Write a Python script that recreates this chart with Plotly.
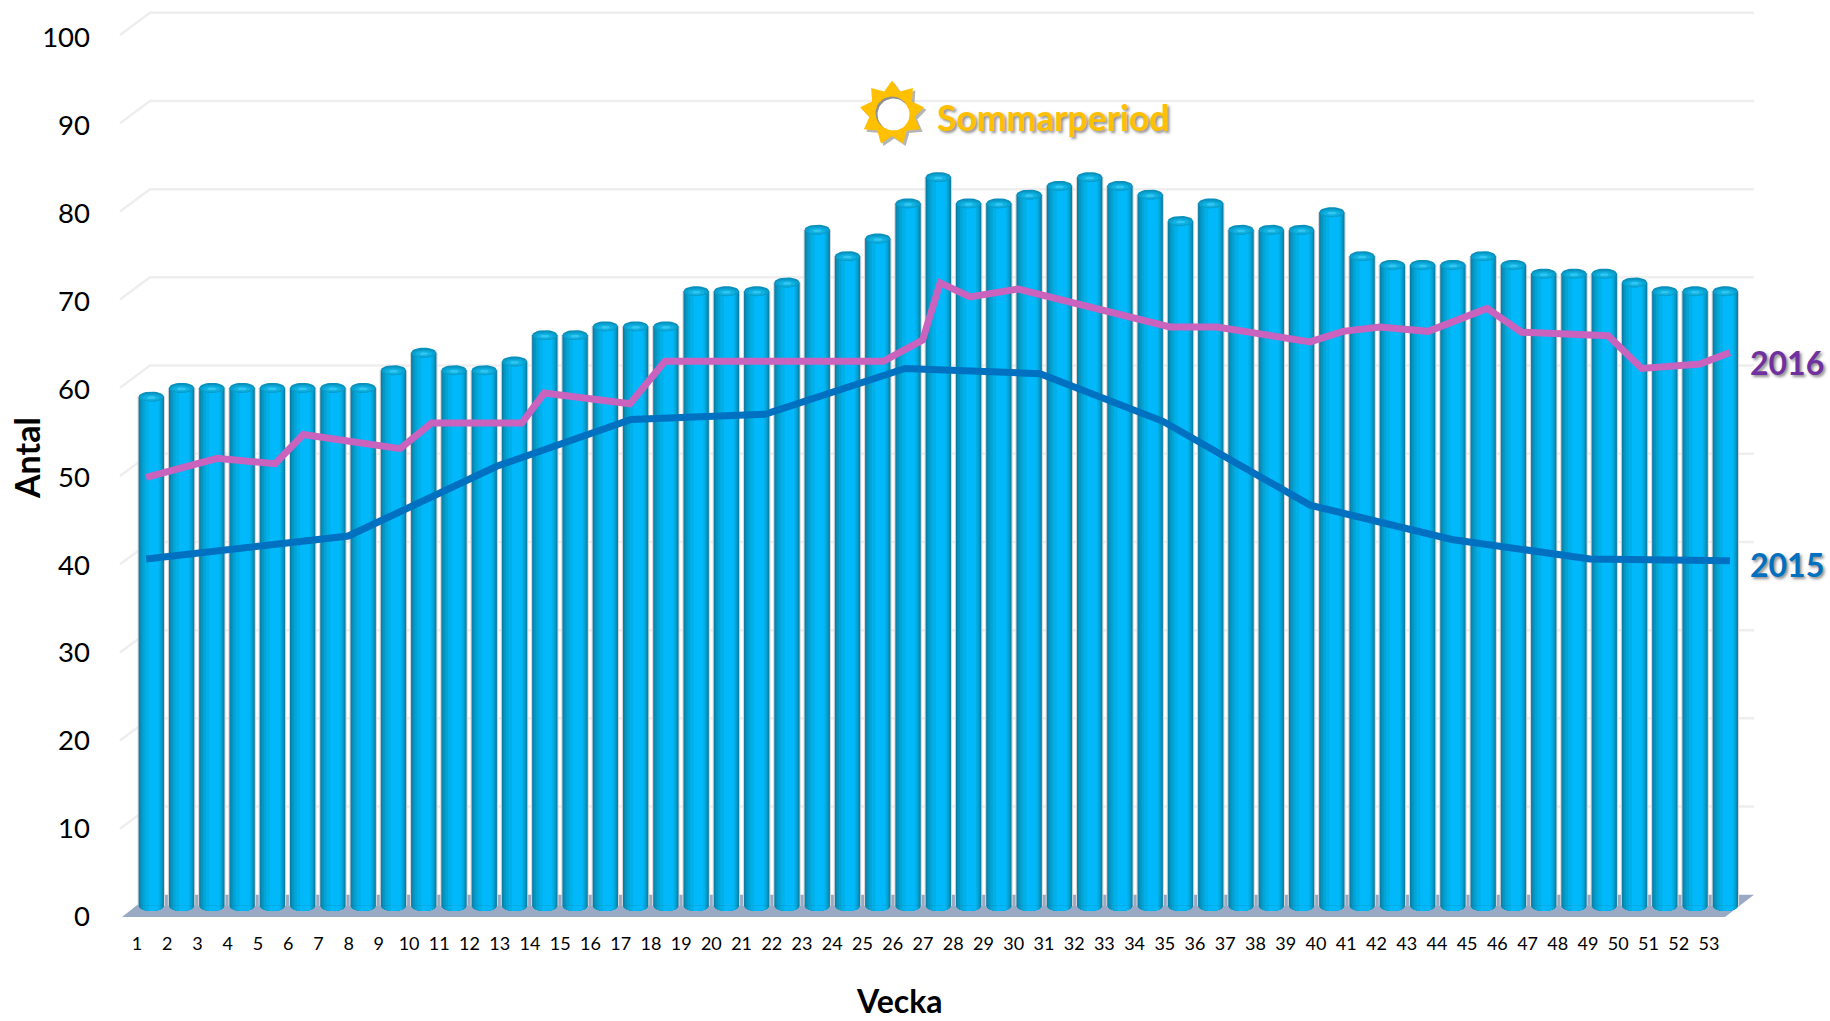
import math
import plotly.graph_objects as go

# ---------- data ----------
weeks = list(range(1, 54))
antal = [58, 59, 59, 59, 59, 59, 59, 59, 61, 63, 61, 61, 62, 65, 65, 66, 66, 66, 70, 70,
         70, 71, 77, 74, 76, 80, 83, 80, 80, 81, 82, 83, 82, 81, 78, 80, 77, 77, 77, 79,
         74, 73, 73, 73, 74, 73, 72, 72, 72, 71, 70, 70, 70]

weeks_2015 = [0.83, 7.51, 12.41, 16.85, 21.27, 25.9, 30.36, 34.42, 39.28, 43.96, 48.53, 53.15]
trend_2015 = [40.6, 43.2, 51.1, 56.4, 57.0, 62.2, 61.6, 56.2, 46.7, 42.8, 40.6, 40.4]

weeks_2016 = [0.83, 3.18, 5.09, 6.02, 9.22, 10.26, 13.24, 13.98, 16.81, 17.97, 25.18, 26.48,
              27.06, 28.05, 29.64, 34.65, 36.2, 39.28, 40.37, 41.59, 43.18, 45.13, 46.27,
              49.13, 50.24, 52.16, 53.15]
trend_2016 = [49.85, 52.0, 51.4, 54.7, 53.1, 56.0, 56.0, 59.4, 58.2, 63.0, 63.0, 65.4,
              71.9, 70.3, 71.2, 66.9, 66.9, 65.2, 66.4, 66.9, 66.4, 69.0, 66.3,
              65.9, 62.2, 62.7, 64.0]

y_ticks = list(range(0, 101, 10))

# ---------- canvas and scale ----------
W, H = 1830, 1021
X0, DX = 151.3, 30.27          # pixel of week 1, pixels per week
Y0, DY = 917.0, 8.82           # front plane: pixel of value 0, pixels per unit
B0, DB = 906.0, 8.783          # cylinder axis: pixel of value 0, pixels per unit
L0, DL = 137.0, 30.23          # week labels: pixel of week 1, pixels per week
T0, DT = 916.5, 8.79           # value labels: pixel of value 0, pixels per unit


def wk(px):
    return (px - X0) / DX + 1


def val(py):
    return (Y0 - py) / DY


x_range = [wk(0), wk(W)]
y_range = [val(H), val(0)]
y2_range = [(B0 - H) / DB, B0 / DB]
label_x_range = [(0 - L0) / DL + 1, (W - L0) / DL + 1]
label_y_range = [(T0 - H) / DT, T0 / DT]

fig = go.Figure()

# ---------- back wall and floor ----------
DEPTH_Y = 2.52
gx, gy = [], []
for t in y_ticks[1:]:
    gx += [wk(120), wk(150), wk(1754), None]
    gy += [t, t + DEPTH_Y, t + DEPTH_Y, None]
fig.add_trace(go.Scatter(x=gx, y=gy, mode="lines", line=dict(color="#eeeeee", width=2.5),
                         hoverinfo="skip", showlegend=False))
fig.add_trace(go.Scatter(x=[wk(122), wk(150), wk(1754), wk(1725), wk(122)],
                         y=[0, DEPTH_Y, DEPTH_Y, 0, 0], mode="lines", fill="toself",
                         fillcolor="#9aaac4", line=dict(width=0),
                         hoverinfo="skip", showlegend=False))

# ---------- cylinders ----------
BAR_W = 25.3 / DX
levels = [
    (-0.50, 0.50, "#0b7a9e"),
    (-0.47, 0.475, "#0888b0"),
    (-0.42, 0.44, "#0696c4"),
    (-0.34, 0.40, "#04a4d6"),
    (-0.24, 0.35, "#02b0e8"),
    (-0.10, 0.29, "#00b8fa"),
]
fig.add_trace(go.Bar(x=weeks, y=antal, yaxis="y2", width=27.5 / DX, marker=dict(color="#d4d6d8", line=dict(width=0)),
                     hoverinfo="skip", showlegend=False))
for lo, hi, colour in levels:
    fig.add_trace(go.Bar(x=weeks, y=antal, yaxis="y2", width=(hi - lo) * BAR_W, offset=lo * BAR_W,
                         marker=dict(color=colour, line=dict(width=0)),
                         hovertemplate="Vecka %{x}: %{y}<extra></extra>", showlegend=False))

RY = 5.0 / DB                  # half height of an end ellipse, in axis units
for lo, hi, colour in levels:
    ex, ey = [], []
    n = 12
    for w in weeks:
        for i in range(n + 1):
            f = lo + (hi - lo) * i / n
            ex.append(w + f * BAR_W)
            ey.append(-RY * math.sqrt(max(0.0, 1 - (2 * f) ** 2)))
        ex += [w + hi * BAR_W, w + lo * BAR_W, None]
        ey += [0.05, 0.05, None]
    fig.add_trace(go.Scatter(x=ex, y=ey, yaxis="y2", mode="lines", fill="toself", fillcolor=colour,
                             line=dict(width=0), hoverinfo="skip", showlegend=False))


def caps(scale_x, scale_y, drop):
    cx, cy = [], []
    for w, v in zip(weeks, antal):
        for i in range(29):
            t = 2 * math.pi * i / 28
            cx.append(w + 0.5 * BAR_W * scale_x * math.cos(t))
            cy.append(v - drop + RY * scale_y * math.sin(t))
        cx.append(None)
        cy.append(None)
    return cx, cy


for sx, sy, drop, colour in [(1.0, 1.0, 0.0, "#0a90bc"),
                             (0.92, 0.8, 0.1, "#0aa2d0"),
                             (0.68, 0.55, 0.12, "#10b2e2"),
                             (0.36, 0.28, 0.12, "#34c6f2")]:
    cx, cy = caps(sx, sy, drop)
    fig.add_trace(go.Scatter(x=cx, y=cy, yaxis="y2", mode="lines", fill="toself", fillcolor=colour,
                             line=dict(width=0), hoverinfo="skip", showlegend=False))

# ---------- trend lines ----------
fig.add_trace(go.Scatter(x=weeks_2015, y=trend_2015, yaxis="y3", mode="lines", name="2015",
                         line=dict(color="#0070c0", width=7), showlegend=False))
fig.add_trace(go.Scatter(x=weeks_2016, y=trend_2016, yaxis="y3", mode="lines", name="2016",
                         line=dict(color="#c963bd", width=7), showlegend=False))


# ---------- sun ----------
def sun_star(cx, cy, r_out, r_in, tips=9):
    sx, sy = [], []
    for i in range(2 * tips + 1):
        r = r_out if i % 2 == 0 else r_in
        a = -math.pi / 2 + i * math.pi / tips
        sx.append(wk(cx + r * math.cos(a)))
        sy.append(val(cy + r * math.sin(a)))
    return sx, sy


def disc(cx, cy, r):
    sx, sy = [], []
    for i in range(41):
        a = 2 * math.pi * i / 40
        sx.append(wk(cx + r * math.cos(a)))
        sy.append(val(cy + r * math.sin(a)))
    return sx, sy


SUN = (892, 113)
for shape, colour in [(sun_star(SUN[0] + 2.5, SUN[1] + 2.5, 32.5, 23), "rgba(120,120,120,0.55)"),
                      (sun_star(SUN[0], SUN[1], 32.5, 23), "#ffc000"),
                      (disc(SUN[0], SUN[1], 16.5), "#8f8f8f"),
                      (disc(SUN[0] + 1.5, SUN[1] + 1.5, 16), "#ffffff")]:
    fig.add_trace(go.Scatter(x=shape[0], y=shape[1], yaxis="y3", mode="lines", fill="toself",
                             fillcolor=colour, line=dict(width=0), hoverinfo="skip", showlegend=False))

# ---------- texts ----------
FONT = "Lato"
SHADOW = "2px 2px 3px rgba(90,90,90,0.7)"


def note(text, px, py, size, colour, bold=True, angle=0, shadow="none"):
    fig.add_annotation(text=text, x=px / W, y=1 - py / H, xref="paper", yref="paper",
                       xanchor="center", yanchor="middle", showarrow=False, textangle=angle,
                       font=dict(family=FONT, size=size, color=colour,
                                 weight="bold" if bold else "normal", shadow=shadow))


note("Sommarperiod", 1053, 117, 35.5, "#ffc000", shadow=SHADOW)
note("2016", 1787, 362, 32, "#7030a0", shadow=SHADOW)
note("2015", 1787, 564, 32, "#0070c0", shadow=SHADOW)
note("Antal", 26, 458, 34, "#000000", angle=-90)
note("Vecka", 899, 1000, 32, "#000000")

# ---------- axes ----------
hidden = dict(visible=False, fixedrange=True)
fig.update_layout(
    width=W, height=H, margin=dict(l=0, r=0, t=0, b=0), autosize=False,
    paper_bgcolor="#ffffff", plot_bgcolor="#ffffff", barmode="overlay",
    font=dict(family=FONT, color="#000000"), showlegend=False,
    xaxis=dict(range=x_range, domain=[0, 1], **hidden),
    xaxis2=dict(range=label_x_range, domain=[0, 1], overlaying="x", side="bottom",
                anchor="free", position=1 - 931 / H, tickmode="array", tickvals=weeks,
                ticktext=[str(w) for w in weeks], ticks="", showgrid=False, zeroline=False,
                showline=False, tickfont=dict(family=FONT, size=18, color="#000000"),
                tickangle=0, fixedrange=True),
    yaxis=dict(range=y_range, domain=[0, 1], **hidden),
    yaxis2=dict(range=y2_range, domain=[0, 1], overlaying="y", **hidden),
    yaxis3=dict(range=y_range, domain=[0, 1], overlaying="y", **hidden),
    yaxis4=dict(range=label_y_range, domain=[0, 1], overlaying="y", anchor="free", position=90 / W, side="left",
                tickmode="array", tickvals=y_ticks, ticks="", showgrid=False, zeroline=False,
                showline=False, tickfont=dict(family=FONT, size=27.5, color="#000000"), fixedrange=True),
)
# empty traces keep the two label axes laid out
fig.add_trace(go.Scatter(x=[None], y=[None], xaxis="x2", yaxis="y3", hoverinfo="skip", showlegend=False))
fig.add_trace(go.Scatter(x=[None], y=[None], xaxis="x", yaxis="y4", hoverinfo="skip", showlegend=False))

fig.write_html("out.html", config={"displayModeBar": False},
               post_script="document.body.style.margin='0';document.body.style.overflow='hidden';")
